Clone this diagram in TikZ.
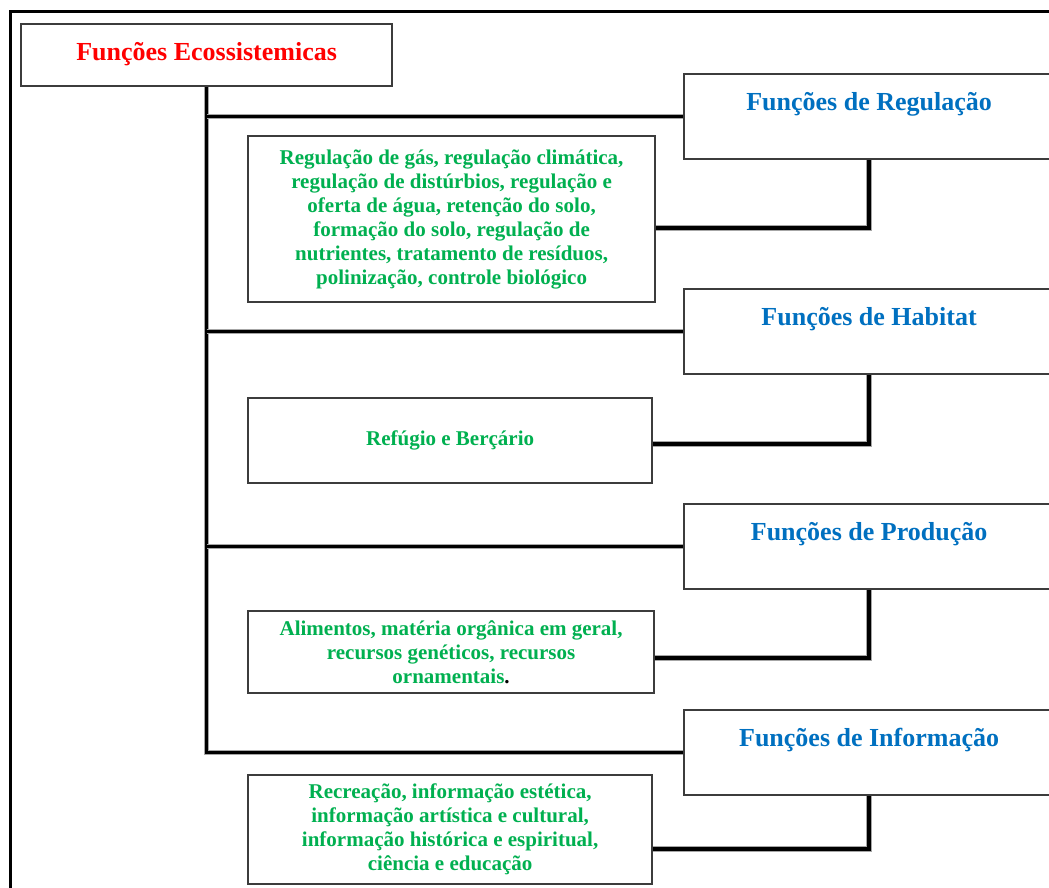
\documentclass[tikz,border=0pt]{standalone}
\usepackage{fontspec}
\setmainfont{Liberation Serif}
\usetikzlibrary{calc}
\definecolor{fred}{HTML}{FF0000}
\definecolor{fblue}{HTML}{0070C0}
\definecolor{fgreen}{HTML}{00B050}
\definecolor{edge}{HTML}{3C3C3C}
\tikzset{
  box/.style={draw=edge, line width=2.2pt, fill=white, inner sep=0pt, anchor=north west},
  headbox/.style={box, minimum width=370pt, minimum height=85pt, text height=36pt, text depth=49pt,
    font=\fontsize{26}{28}\selectfont\bfseries, text=fblue},
  itembox/.style={box, align=center, font=\fontsize{21}{24}\selectfont\bfseries, text=fgreen},
  conn/.style={draw=black, line width=3.5pt, preaction={draw=black!35, line width=5.5pt}}
}
\begin{document}
\begin{tikzpicture}[x=1pt, y=-1pt]
\useasboundingbox (0,0) rectangle (1049,888);
\clip (0,0) rectangle (1049,888);
\fill[white] (0,0) rectangle (1049,888);

% outer frame (only its left and top sides fall inside the page)
\draw[line width=3pt, black] (10.5,900) -- (10.5,12) -- (1060,12);

% root
\node[box, minimum width=371pt, minimum height=62pt, text height=36pt, text depth=26pt,
      font=\fontsize{26}{28}\selectfont\bfseries, text=fred] (root) at (20,23) {Funções Ecossistemicas};

% function groups
\node[headbox] (reg) at (683,73)  {Funções de Regulação};
\node[headbox] (hab) at (683,288) {Funções de Habitat};
\node[headbox] (pro) at (683,503) {Funções de Produção};
\node[headbox] (inf) at (683,709) {Funções de Informação};

% descriptions
\node[itembox, minimum width=407pt, minimum height=166pt] (regc) at (247,135)
  {Regulação de gás, regulação climática,\\regulação de distúrbios, regulação e\\oferta de água, retenção do solo,\\formação do solo, regulação de\\nutrientes, tratamento de resíduos,\\polinização, controle biológico};
\node[itembox, minimum width=404pt, minimum height=85pt] (habc) at (247,397)
  {Refúgio e Berçário};
\node[itembox, minimum width=406pt, minimum height=82pt] (proc) at (247,610)
  {Alimentos, matéria orgânica em geral,\\recursos genéticos, recursos\\ornamentais\textcolor{black}{.}};
\node[itembox, minimum width=404pt, minimum height=109pt] (infc) at (247,774)
  {Recreação, informação estética,\\informação artística e cultural,\\informação histórica e espiritual,\\ciência e educação};

% trunk and branches
\draw[conn] (root.south) |- (inf.west);
\draw[conn] (root.south |- reg.west) -- (reg.west);
\draw[conn] (root.south |- hab.west) -- (hab.west);
\draw[conn] (root.south |- pro.west) -- (pro.west);

% group to description
\draw[conn] (reg.south) |- ($(regc.east)+(0,9)$);
\draw[conn] (hab.south) |- ($(habc.east)+(0,3.5)$);
\draw[conn] (pro.south) |- ($(proc.east)+(0,6)$);
\draw[conn] (inf.south) |- ($(infc.east)+(0,19.5)$);
\end{tikzpicture}
\end{document}
